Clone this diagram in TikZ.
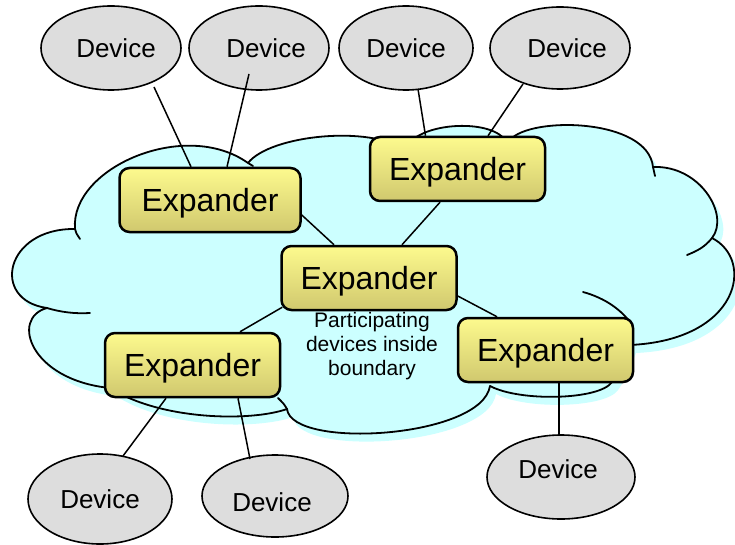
\documentclass[tikz,border=0pt]{standalone}
\usepackage{fontspec}
\setmainfont{Liberation Sans}
\usetikzlibrary{shapes.geometric,calc}
\definecolor{cloudcyan}{RGB}{204,255,255}
\definecolor{devgray}{RGB}{221,221,221}
\definecolor{exptop}{RGB}{253,250,142}
\definecolor{expbot}{RGB}{208,200,110}

% outer contour of the cloud, bump by bump
\def\cloudcontour{(75,229)
  .. controls (70,168) and (185,118) .. (248,163)
  .. controls (270,135) and (370,125) .. (405,150)
  .. controls (415,122) and (490,118) .. (505,140)
  -- (510,140)
  .. controls (530,116) and (648,118) .. (653,167)
  .. controls (700,165) and (730,215) .. (712,238)
  .. controls (755,260) and (740,340) .. (630,345)
  -- (620,370) -- (612,382)
  .. controls (600,400) and (520,402) .. (490,386)
  .. controls (482,438) and (292,450) .. (287,409)
  .. controls (250,422) and (160,420) .. (110,388)
  .. controls (30,380) and (10,318) .. (47,308)
  .. controls (-10,300) and (5,228) .. (75,229) -- cycle}

\begin{document}
\begin{tikzpicture}[x=1pt,y=-1pt,
  cloudline/.style={draw=black, line width=1.8pt, line join=round, line cap=round},
  dev/.style={ellipse, draw=black, line width=1.6pt, fill=devgray, inner sep=0pt},
  devtxt/.style={font=\fontsize{26}{30}\selectfont, inner sep=0pt, text depth=0pt},
  expbox/.style={draw=black, line width=2.5pt, rounded corners=10pt,
    top color=exptop, bottom color=expbot, inner sep=0pt, text depth=0pt,
    minimum width=175pt, minimum height=64pt,
    font=\fontsize{32}{38}\selectfont},
  link/.style={draw=black, line width=1.5pt}]

\useasboundingbox (0,0) rectangle (735,545);
\fill[white] (0,0) rectangle (735,545);

% cloud: shadow, body, outline and the inner tails of the bumps
\fill[cloudcyan, shift={(6,8)}] \cloudcontour;
\fill[cloudcyan] \cloudcontour;
\path[cloudline] \cloudcontour;
\path[cloudline] (75,229) .. controls (76,233) .. (80,239);
\path[cloudline] (248,163) -- (253,166);
\path[cloudline] (653,167) -- (655,176);
\path[cloudline] (712,238) .. controls (705,247) and (697,251) .. (687,255);
\path[cloudline] (47,308) .. controls (60,312) and (75,314) .. (90,313);
\path[cloudline] (583,292) .. controls (605,298) and (622,310) .. (632,325);
\path[cloudline] (287,409) .. controls (284,404) .. (278,398);

% devices
\node[dev, minimum width=140pt, minimum height=84pt,
  label={[devtxt,xshift=5pt]center:Device}] (D1) at (111,48) {};
\node[dev, minimum width=140pt, minimum height=84pt,
  label={[devtxt,xshift=7pt]center:Device}] (D2) at (259,48) {};
\node[dev, minimum width=134pt, minimum height=84pt,
  label={[devtxt]center:Device}] (D3) at (406,48) {};
\node[dev, minimum width=140pt, minimum height=82pt,
  label={[devtxt,xshift=7pt]center:Device}] (D4) at (560,48) {};
\node[dev, minimum width=144pt, minimum height=90pt,
  label={[devtxt]center:Device}] (D5) at (100,499) {};
\node[dev, minimum width=146pt, minimum height=82pt,
  label={[devtxt,xshift=-3pt,yshift=-6pt]center:Device}] (D6) at (275,496) {};
\node[dev, minimum width=148pt, minimum height=84pt,
  label={[devtxt,xshift=-3pt,yshift=8pt]center:Device}] (D7) at (561,477) {};

% expanders
\node[expbox, minimum width=181pt] (E1) at (210,200) {Expander};
\node[expbox] (E2) at (457.5,169) {Expander};
\node[expbox] (E3) at (369,278) {Expander};
\node[expbox] (E4) at (192.5,365) {Expander};
\node[expbox] (E5) at (545.5,350) {Expander};

\node[font=\fontsize{21}{24}\selectfont, align=center, inner sep=0pt] (P)
  at (372,346) {Participating\\devices inside\\boundary};

% links
\draw[link] ($(D1.center)+(43,39)$) -- ($(E1.north)+(-19,0)$);
\draw[link] ($(D2.center)+(-10,26)$) -- ($(E1.north)+(17,0)$);
\draw[link] ($(D3.center)+(12,41)$) -- ($(E2.north)+(-32,0)$);
\draw[link] ($(D4.center)+(-37,36)$) -- ($(E2.north)+(30.5,0)$);
\draw[link] ($(E1.east)+(0,15)$) -- ($(E3.north)+(-35,0)$);
\draw[link] ($(E2.south)+(-17.5,0)$) -- ($(E3.north)+(33,0)$);
\draw[link] ($(E3.south west)+(2,-4)$) -- ($(E4.north)+(47.5,0)$);
\draw[link] ($(E3.east)+(0,18)$) -- ($(E5.north)+(-48.5,0)$);
\draw[link] ($(E4.south)+(-26.5,0)$) -- ($(D5.center)+(23,-43)$);
\draw[link] ($(E4.south)+(45.5,0)$) -- ($(D6.center)+(-25,-37)$);
\draw[link] ($(E5.south)+(13.5,0)$) -- ($(D7.center)+(-2,-41)$);
\end{tikzpicture}
\end{document}
